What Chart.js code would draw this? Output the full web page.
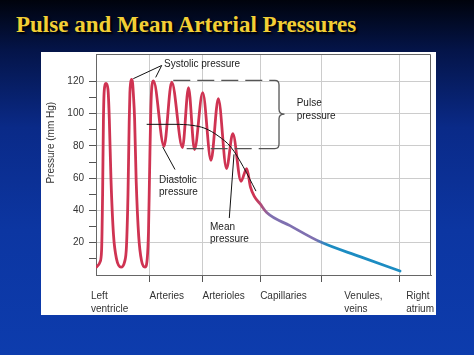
<!DOCTYPE html>
<html><head><meta charset="utf-8">
<script src="https://cdn.jsdelivr.net/npm/chart.js@4.4.1/dist/chart.umd.min.js"></script>
<style>
html,body{margin:0;padding:0;}
body{width:474px;height:355px;overflow:hidden;position:relative;
 background:linear-gradient(180deg,#00030c 0%,#041448 14%,#0a2a88 36%,#0c36a2 65%,#0d3cad 100%);}
h1{position:absolute;left:16px;top:13px;margin:0;font:bold 23px/23px "Liberation Serif",serif;color:#f3cf35;text-shadow:2px 2px 2px #000;white-space:nowrap;}
#panel{position:absolute;left:41px;top:52px;width:395px;height:263px;background:#fff;}
canvas{display:block;}
</style></head>
<body>
<h1>Pulse and Mean Arterial Pressures</h1>
<div id="panel"><canvas id="c" width="395" height="263"></canvas></div>
<script>
// ---- data ----
const xBoundaries = [16, 31.8, 49, 67.2, 90.7];
const xLabelPos = [-1.5, 16, 31.8, 49, 74.1, 92.6];
const xLabels = [['Left','ventricle'],['Arteries'],['Arterioles'],['Capillaries'],['Venules,','veins'],['Right','atrium']];
const yTickValues = [0,10,20,30,40,50,60,70,80,90,100,110,120];
const yLabelValues = [20,40,60,80,100,120];

const waveX = [0.21,1.19,1.67,1.97,2.21,2.45,2.99,3.58,3.97,4.48,5.22,6.12,7.46,8.51,9.10,9.55,9.91,10.12,10.33,10.63,10.93,11.16,11.52,12.00,12.75,13.58,14.63,15.31,15.67,16.00,16.33,16.60,16.84,17.16,
  20.30,22.60,25.82,27.61,29.40,31.85,34.33,36.51,38.96,40.84,43.28,44.99,46.12,47.31,48.96,50.96,57.91,67.07,78.81,90.75];
const waveY = [5.1,8.0,15.5,50,95,114,118.8,115,97,58.8,25,10,4.9,8,18,50,95,113,119,121.2,119,112,97,58,24,9,4.9,10.5,27,64,100,115,119,120.3,
  79.8,119.6,79.0,116.1,77.8,113.0,71.1,109.3,66.0,87.6,58.1,66.0,54.4,48.6,44.2,38.7,30.6,20.4,11.4,2.5];

const meanX = [15.13,23.58,28.66,32.54,36.42,40.30,43.88,47.76];
const meanY = [93.4,93.4,92.8,90.9,86.3,79.2,67.4,52.0];

const systolicLevel = 120.6, diastolicLevel = 78.4;
const pulseTopX = [23.07, 53.43];
const pulseBottomX = [27.07, 53.43];

const leaders = [
  [[19.61,129.9],[11.13,121.7]],
  [[19.61,129.9],[17.82,122.5]],
  [[23.58,65.4],[19.91,79.4]],
  [[39.79,35.3],[41.19,74.8]]
];
const notes = [
  {lines:['Systolic pressure'], x:20.30, y:130.5},
  {lines:['Diastolic','pressure'], x:18.81, y:58.8},
  {lines:['Mean','pressure'], x:34.03, y:29.9},
  {lines:['Pulse','pressure'], x:59.91, y:106.2}
];
const brace = [[53.43,120.6],[54.63,117.8],[54.63,102.7],[56.27,99.7],[54.63,96.8],[54.63,81.2],[53.43,78.4]];
const yTitle = 'Pressure (mm Hg)';
const colorStops = [[47.5,'#cf3352'],[52,'#7f70b0'],[65.5,'#7f70b0'],[69,'#1c8cc2']];

// ---- build ----
const xTickList = [];
xBoundaries.forEach(v => xTickList.push({value:v, label:'', grid:true}));
xLabelPos.forEach((v,i) => {
  const ex = xTickList.find(t => Math.abs(t.value - v) < 1e-9);
  if (ex) ex.label = xLabels[i]; else xTickList.push({value:v, label:xLabels[i], grid:false});
});
xTickList.sort((a,b) => a.value - b.value);

const pts = (xs, ys) => xs.map((x,i) => ({x, y:ys[i]}));
const FONT = '"Liberation Sans", Arial, sans-serif';
Chart.defaults.font.family = FONT;
Chart.defaults.color = '#333';

function waveColor(ctx){
  const ch = ctx.chart;
  if (!ch.chartArea || !ch.scales.x) return '#cf3352';
  const xs = ch.scales.x;
  const p0 = xs.getPixelForValue(0), p1 = xs.getPixelForValue(100);
  const g = ch.ctx.createLinearGradient(p0, 0, p1, 0);
  colorStops.forEach(s => g.addColorStop(Math.min(1,Math.max(0,s[0]/100)), s[1]));
  return g;
}

const datasets = [];
leaders.forEach(l => datasets.push({data:l.map(p=>({x:p[0],y:p[1]})), borderColor:'#111', borderWidth:1, pointRadius:0, tension:0}));
datasets.push({data:pts(meanX, meanY), borderColor:'#111', borderWidth:1, pointRadius:0, cubicInterpolationMode:'monotone'});
datasets.push({data:pulseTopX.map(x=>({x, y:systolicLevel})), borderColor:'#555', borderWidth:1.3, borderDash:[17,7], pointRadius:0});
datasets.push({data:pulseBottomX.map(x=>({x, y:diastolicLevel})), borderColor:'#555', borderWidth:1.3, borderDash:[17,7], pointRadius:0});
datasets.push({data:pts(waveX, waveY), borderColor:waveColor, borderWidth:2.8, pointRadius:0, cubicInterpolationMode:'monotone', borderCapStyle:'round', borderJoinStyle:'round'});

const extras = {
  id:'extras',
  afterDatasetsDraw(chart){
    const {ctx, chartArea:a, scales:{x, y}} = chart;
    const X = v => x.getPixelForValue(v), Y = v => y.getPixelForValue(v);
    ctx.save();
    ctx.strokeStyle = '#666'; ctx.lineWidth = 1;
    ctx.beginPath();
    ctx.moveTo(a.left, Math.round(a.top)+0.5); ctx.lineTo(Math.round(a.right)-0.5, Math.round(a.top)+0.5);
    ctx.lineTo(Math.round(a.right)-0.5, a.bottom);
    ctx.stroke();
    ctx.strokeStyle = '#555'; ctx.lineWidth = 1.3;
    const b = brace;
    ctx.beginPath();
    ctx.moveTo(X(b[0][0]), Y(b[0][1]));
    ctx.quadraticCurveTo(X(b[1][0]), Y(b[0][1]), X(b[1][0]), Y(b[1][1]));
    ctx.lineTo(X(b[2][0]), Y(b[2][1]));
    ctx.quadraticCurveTo(X(b[2][0]), Y(b[3][1]), X(b[3][0]), Y(b[3][1]));
    ctx.quadraticCurveTo(X(b[4][0]), Y(b[3][1]), X(b[4][0]), Y(b[4][1]));
    ctx.lineTo(X(b[5][0]), Y(b[5][1]));
    ctx.quadraticCurveTo(X(b[5][0]), Y(b[6][1]), X(b[6][0]), Y(b[6][1]));
    ctx.stroke();
    ctx.fillStyle = '#222'; ctx.font = '10px ' + FONT; ctx.textBaseline = 'middle'; ctx.textAlign = 'left';
    notes.forEach(n => n.lines.forEach((t,i) => ctx.fillText(t, X(n.x), Y(n.y) + i*12.6)));
    ctx.fillStyle = '#333';
    ctx.translate(y.left + 10, Y(82));
    ctx.rotate(-Math.PI/2);
    ctx.textAlign = 'center';
    ctx.fillText(yTitle, 0, 0);
    ctx.restore();
  }
};

function noPad(ax){ ax.paddingLeft = 0; ax.paddingRight = 0; ax.paddingTop = 0; ax.paddingBottom = 0; }

new Chart(document.getElementById('c'), {
  type:'line',
  data:{datasets},
  plugins:[extras],
  options:{
    responsive:false, animation:false, devicePixelRatio:1,
    layout:{padding:{left:0,right:5,top:2,bottom:0}, autoPadding:false},
    plugins:{legend:{display:false}, tooltip:{enabled:false}},
    elements:{line:{fill:false}},
    scales:{
      x:{
        type:'linear', min:0, max:100,
        afterBuildTicks: ax => { ax.ticks = xTickList.map(t => ({value:t.value})); },
        afterFit: ax => { ax.height = 40; noPad(ax); },
        ticks:{autoSkip:false, maxRotation:0, minRotation:0, align:'start', padding:8,
          font:{size:10, lineHeight:1.25}, color:'#333',
          callback:(v,i) => xTickList[i] ? xTickList[i].label : ''},
        grid:{drawTicks:true, tickLength:7, lineWidth:1,
          color: c => (xTickList[c.index] && xTickList[c.index].grid) ? '#cccccc' : 'rgba(0,0,0,0)',
          tickColor: c => (xTickList[c.index] && xTickList[c.index].grid) ? '#555' : 'rgba(0,0,0,0)'},
        border:{display:true, color:'#666', width:1}
      },
      y:{
        type:'linear', min:0, max:137,
        afterBuildTicks: ax => { ax.ticks = yTickValues.map(v => ({value:v})); },
        afterFit: ax => { ax.width = 55; noPad(ax); },
        ticks:{autoSkip:false, padding:5, font:{size:10}, color:'#333',
          callback: v => yLabelValues.includes(v) ? String(v) : ''},
        grid:{drawTicks:true, tickLength:7, lineWidth:1,
          color: c => (c.tick && yLabelValues.includes(c.tick.value)) ? '#cccccc' : 'rgba(0,0,0,0)',
          tickColor: c => (c.tick && c.tick.value > 0) ? '#555' : 'rgba(0,0,0,0)'},
        border:{display:true, color:'#666', width:1}
      }
    }
  }
});
</script>
</body></html>
